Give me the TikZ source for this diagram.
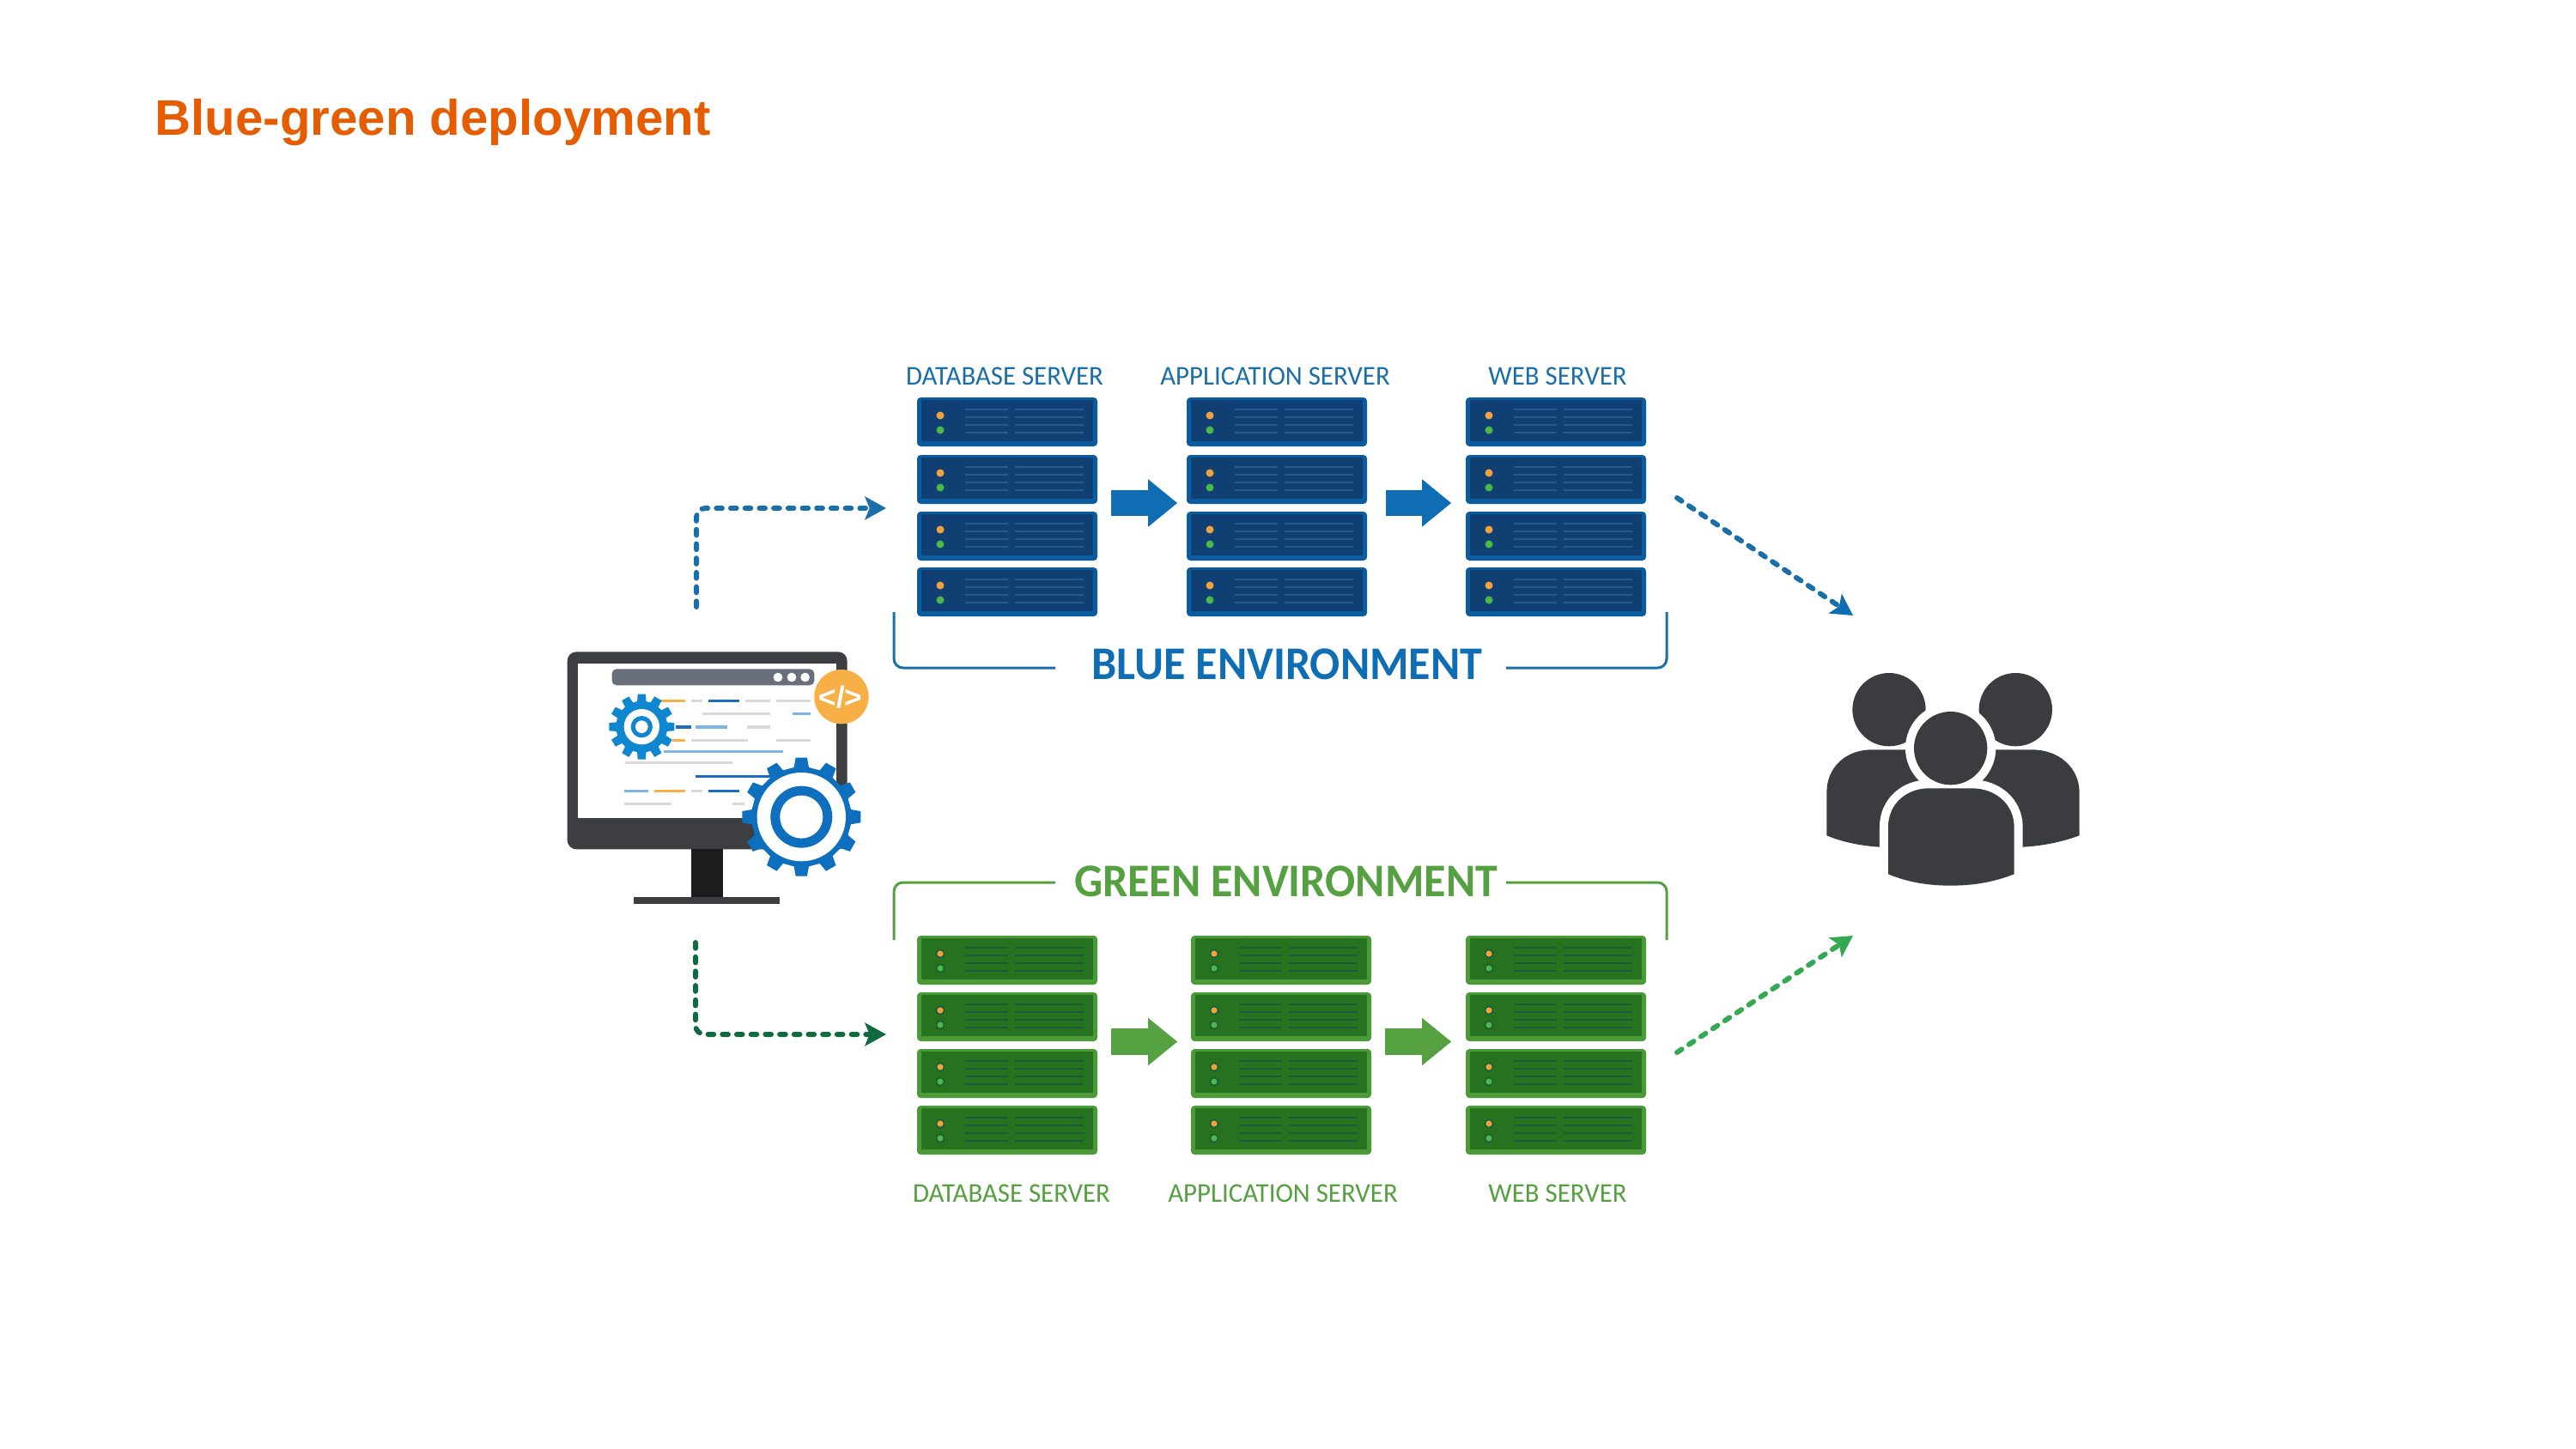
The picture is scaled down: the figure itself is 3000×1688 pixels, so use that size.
\documentclass[tikz,border=0pt]{standalone}
\usepackage{fontspec}
\setmainfont{Liberation Sans}
\newfontfamily\labelfont[FakeStretch=0.975]{Carlito}
\newfontfamily\envfont[FakeStretch=0.955]{Carlito}
\usetikzlibrary{arrows.meta,calc}

\definecolor{titleOrange}{HTML}{E65C00}
\definecolor{blueBody}{HTML}{0B5C9F}
\definecolor{blueCore}{HTML}{0F3F73}
\definecolor{blueLine}{HTML}{275A8C}
\definecolor{blueText}{HTML}{1B6FA8}
\definecolor{blueHead}{HTML}{0F6DB4}
\definecolor{greenBody}{HTML}{4B9A38}
\definecolor{greenCore}{HTML}{27721F}
\definecolor{greenLine}{HTML}{1B5A3A}
\definecolor{greenText}{HTML}{55A040}
\definecolor{greenDark}{HTML}{0F6A40}
\definecolor{greenLight}{HTML}{35A853}
\definecolor{ledOrange}{HTML}{F0A33C}
\definecolor{ledGreen}{HTML}{4CB848}
\definecolor{screenDark}{HTML}{3C3E42}
\definecolor{standDark}{HTML}{1D1D1F}
\definecolor{barGrey}{HTML}{6B6F7C}
\definecolor{codeGrey}{HTML}{D9D9D9}
\definecolor{codeOrange}{HTML}{F6B045}
\definecolor{codeBlue}{HTML}{1A6FBE}
\definecolor{codeLight}{HTML}{7DB4E6}
\definecolor{gearLight}{HTML}{0F86D0}
\definecolor{gearDark}{HTML}{0F6FBF}
\definecolor{peopleDark}{HTML}{3A3C3F}

\tikzset{
    x=0.01cm, y=-0.01cm,
    rack/.style={minimum width=2.1cm, minimum height=2.55cm, inner sep=0pt},
    srvlabel/.style={font=\labelfont\fontsize{9pt}{11pt}\selectfont, inner sep=0pt},
    envlabel/.style={font=\envfont\bfseries\fontsize{15.5pt}{18pt}\selectfont, inner sep=0pt},
    fatblue/.style={blueHead, line width=8.8pt, -{Triangle[length=9.7pt,width=15.1pt]}},
    fatgreen/.style={greenText, line width=8.8pt, -{Triangle[length=9.7pt,width=15.1pt]}},
    dashlink/.style={line width=1.7pt, line cap=round, dash pattern=on 1.9pt off 2.85pt, rounded corners=3pt,
        -{Stealth[length=7pt,width=7.6pt,inset=1.5pt]}},
    bracket/.style={line width=0.85pt, rounded corners=3pt},
    codeline/.style={line width=1pt},
    blueLed/.style={},
    greenLed/.style={draw=greenLine, line width=0.4pt},
    blueStroke/.style={line width=0.4pt},
    greenStroke/.style={line width=0.6pt}
}

% one server of a rack: left, top, colour prefix
\newcommand{\serverunit}[3]{
    \begin{scope}[shift={(#1,#2)}]
        \fill[#3Body, rounded corners=1.2pt] (0,0) rectangle (210,57);
        \fill[#3Core] (5,3) rectangle (205,51);
        \path[fill=ledOrange, #3Led] (27,21) circle (4.5);
        \path[fill=ledGreen, #3Led] (27,38) circle (4.5);
        \foreach \ly in {14,23,32,41} {
            \draw[#3Line, #3Stroke] (56,\ly) -- (106,\ly);
            \draw[#3Line, #3Stroke] (114,\ly) -- (194,\ly);
        }
    \end{scope}
}

% cx, cy, tip, root, white, ring out, ring in, half tooth, colour
\newcommand{\gearicon}[9]{
    \begin{scope}[shift={(#1,#2)}]
        \fill[#9] (-#8-3:#4) \foreach \a in {0,30,...,330} {
            -- (\a-#8-3:#4) -- (\a-#8:#3) -- (\a+#8:#3) -- (\a+#8+3:#4)
        } -- cycle;
        \fill[white] (0,0) circle (#5);
        \fill[#9] (0,0) circle (#6);
        \fill[white] (0,0) circle (#7);
    \end{scope}
}

\begin{document}
\begin{tikzpicture}
    \useasboundingbox (0,0) rectangle (3000,1688);
    \fill[white] (0,0) rectangle (3000,1688);

    \node[anchor=base west, inner sep=0pt, text=titleOrange, font=\bfseries\fontsize{16.55pt}{20pt}\selectfont] (title) at (180,157.5) {Blue-green deployment};

    % racks
    \foreach \nm/\lx in {blueDb/1068, blueApp/1382, blueWeb/1707} {
        \node[rack] (\nm) at (\lx+105,590.5) {};
        \foreach \ty in {463,530,596,661} {
            \serverunit{\lx}{\ty}{blue}
        }
    }
    \foreach \nm/\lx in {greenDb/1068, greenApp/1387, greenWeb/1707} {
        \node[rack] (\nm) at (\lx+105,1217.5) {};
        \foreach \ty in {1090,1156,1222,1288} {
            \serverunit{\lx}{\ty}{green}
        }
    }

    \node[srvlabel, text=blueText] (blueDbLabel) at (1170,438) {DATABASE SERVER};
    \node[srvlabel, text=blueText] (blueAppLabel) at (1485,438) {APPLICATION SERVER};
    \node[srvlabel, text=blueText] (blueWebLabel) at (1814,438) {WEB SERVER};
    \node[srvlabel, text=greenText] (greenDbLabel) at (1178,1390) {DATABASE SERVER};
    \node[srvlabel, text=greenText] (greenAppLabel) at (1494,1390) {APPLICATION SERVER};
    \node[srvlabel, text=greenText] (greenWebLabel) at (1814,1390) {WEB SERVER};

    \draw[fatblue] ($(blueDb.east)+(15,-4.5)$) -- ($(blueApp.west)+(-10,-4.5)$);
    \draw[fatblue] ($(blueApp.east)+(21,-4.5)$) -- ($(blueWeb.west)+(-16,-4.5)$);
    \draw[fatgreen] ($(greenDb.east)+(15,-4)$) -- ($(greenApp.west)+(-15,-4)$);
    \draw[fatgreen] ($(greenApp.east)+(15,-4)$) -- ($(greenWeb.west)+(-16,-4)$);

    % environment brackets
    \node[envlabel, text=blueHead] (blueEnv) at (1499,773.5) {BLUE ENVIRONMENT};
    \node[envlabel, text=greenText] (greenEnv) at (1497.5,1026.5) {GREEN ENVIRONMENT};
    \coordinate (blueBrA) at (1041,713);
    \coordinate (blueBrB) at (1229,778);
    \coordinate (blueBrC) at (1754,778);
    \coordinate (blueBrD) at (1941,713);
    \coordinate (greenBrA) at (1041,1095);
    \coordinate (greenBrB) at (1229,1028);
    \coordinate (greenBrC) at (1754,1028);
    \coordinate (greenBrD) at (1941,1095);
    \draw[bracket, blueText] (blueBrA) |- (blueBrB);
    \draw[bracket, blueText] (blueBrD) |- (blueBrC);
    \draw[bracket, greenText] (greenBrA) |- (greenBrB);
    \draw[bracket, greenText] (greenBrD) |- (greenBrC);

    % monitor, in 3x crop coordinates
    \begin{scope}[shift={(640,720)}, scale=0.3333]
        \fill[screenDark, rounded corners=3pt] (62,118) rectangle (1040,808);
        \fill[white] (98,158) rectangle (1003,700);
        \fill[standDark] (495,808) rectangle (607,975);
        \fill[screenDark] (295,975) rectangle (805,1000);
        \fill[barGrey, rounded corners=1.5pt] (218,178) rectangle (925,235);
        \foreach \dx in {798,846,893} {
            \fill[white] (\dx,207) circle (16);
        }
        \foreach \ly/\xa/\xb/\cc in {289/370/475/codeOrange, 289/495/535/codeGrey, 289/555/662/codeBlue,
            289/685/770/codeGrey, 289/792/912/codeGrey, 335/533/770/codeGrey, 335/848/912/codeLight,
            381/440/495/codeBlue, 381/510/622/codeLight, 381/690/770/codeGrey, 428/430/475/codeOrange,
            428/495/692/codeGrey, 428/792/912/codeGrey, 466/400/815/codeLight, 505/265/640/codeGrey,
            553/510/780/codeBlue, 604/262/345/codeLight, 604/367/475/codeOrange, 604/495/535/codeGrey,
            604/555/662/codeBlue, 650/262/427/codeGrey, 650/640/680/codeGrey} {
            \draw[codeline, \cc] (\xa,\ly) -- (\xb,\ly);
        }
        \gearicon{322}{380}{115}{90}{62}{38}{22}{7}{gearLight}
        \gearicon{880}{695}{208}{175}{155}{108}{75}{5.5}{gearDark}
        \fill[codeOrange] (1020,275) circle (95);
        \node[inner sep=0pt, text=white, font=\bfseries\fontsize{10pt}{12pt}\selectfont] (codeTag) at (1017,275) {</>};
    \end{scope}

    % people, in 3x crop coordinates
    \begin{scope}[shift={(2100,760)}, scale=0.3333]
        \fill[peopleDark] (300,200) circle (128);
        \fill[peopleDark] (742,200) circle (128);
        \fill[peopleDark] (82,640) -- (82,490) .. controls (82,400) and (150,340) .. (240,340)
            -- (520,340) -- (520,700) -- (265,680) .. controls (190,675) and (130,660) .. (82,640) -- cycle;
        \fill[peopleDark] (965,640) -- (965,490) .. controls (965,400) and (890,340) .. (800,340)
            -- (520,340) -- (520,700) -- (770,680) .. controls (850,675) and (910,660) .. (965,640) -- cycle;
        \draw[white, line width=5.7pt] (515,335) circle (128);
        \draw[white, line width=5.7pt] (297,775) -- (297,610) .. controls (297,530) and (360,475) .. (440,475)
            -- (590,475) .. controls (670,475) and (737,530) .. (737,610) -- (737,775);
        \fill[white] (515,335) circle (128);
        \fill[peopleDark] (515,335) circle (128);
        \fill[peopleDark] (297,775) -- (297,610) .. controls (297,530) and (360,475) .. (440,475)
            -- (590,475) .. controls (670,475) and (737,530) .. (737,610) -- (737,775)
            .. controls (660,805) and (590,815) .. (515,815) .. controls (440,815) and (370,805) .. (297,775) -- cycle;
    \end{scope}

    % dashed links
    \coordinate (blueOut) at (811,707);
    \coordinate (blueIn) at (1032,592);
    \coordinate (greenOut) at (810,1098);
    \coordinate (greenIn) at (1032,1205);
    \coordinate (blueFrom) at (1953,580);
    \coordinate (blueTo) at (2158,717);
    \coordinate (greenFrom) at (1953,1226);
    \coordinate (greenTo) at (2158,1090);
    \draw[dashlink, blueText] (blueOut) |- (blueIn);
    \draw[dashlink, greenDark] (greenOut) |- (greenIn);
    \draw[dashlink, blueText, -{Stealth[length=7pt,width=7.6pt,inset=1.5pt,blueHead]}] (blueFrom) -- (blueTo);
    \draw[dashlink, greenLight] (greenFrom) -- (greenTo);
\end{tikzpicture}
\end{document}
